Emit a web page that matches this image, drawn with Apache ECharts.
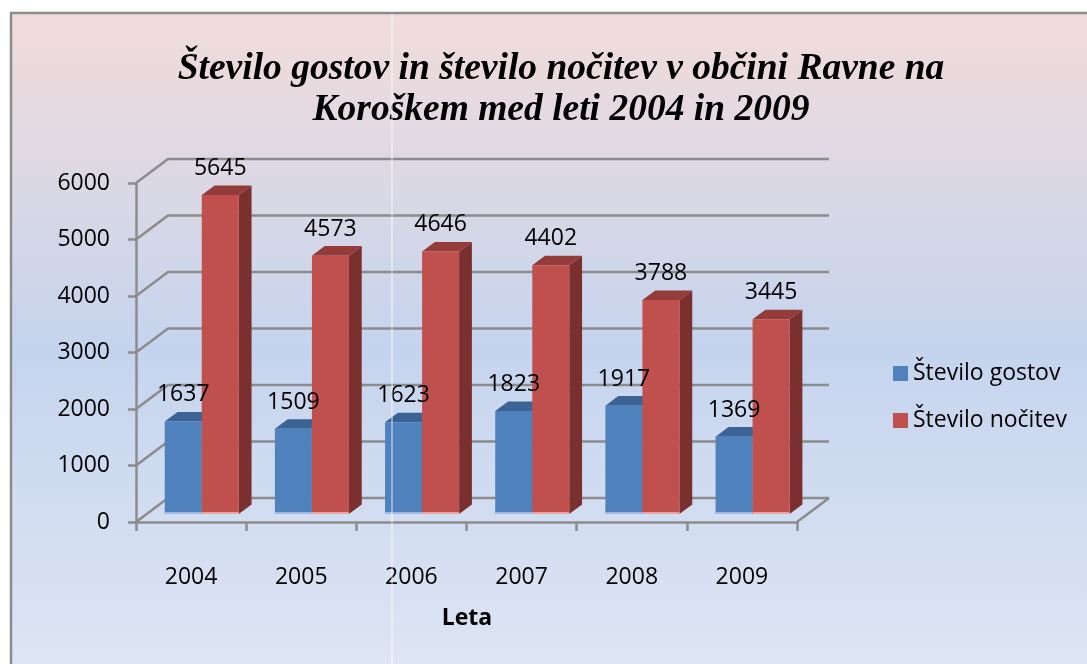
<!DOCTYPE html>
<html><head><meta charset="utf-8">
<script src="https://cdn.jsdelivr.net/npm/echarts@6/dist/echarts.min.js"></script>
<style>html,body{margin:0;padding:0;background:#fff;}#c{width:1087px;height:664px;}</style>
</head><body><div id="c"></div>
<script>
const categories = ['2004', '2005', '2006', '2007', '2008', '2009'];
const gostov = [1637, 1509, 1623, 1823, 1917, 1369];
const nocitev = [5645, 4573, 4646, 4402, 3788, 3445];
const yTicks = [0, 1000, 2000, 3000, 4000, 5000, 6000];
const seriesNames = ['Število gostov', 'Število nočitev'];
const titleLines = ['Število gostov in število nočitev v občini Ravne na', 'Koroškem med leti 2004 in 2009'];
const axisName = 'Leta';

const DX = 32, DY = -24;
const GRID = '#8c8c8c';
const FONT = '"Open Sans"';
const FS = 23;
const palettes = [
  { front: '#4f81bd', top: '#3b6393', side: '#2f4f78', light: '#9db8e2' },
  { front: '#c0504d', top: '#943c3a', side: '#7a302e', light: '#e6a3a1' }
];

const chart = echarts.init(document.getElementById('c'), null, { renderer: 'canvas' });

function barGeom(api, sIdx) {
  const cat = api.value(0), val = api.value(1);
  const base = api.coord([cat, 0]);
  const top = api.coord([cat, val]);
  const cw = api.size([1, 0])[0];
  const bw = cw * 0.336;
  const fx = DX / 3, fy = DY / 3;
  const xl = base[0] + (sIdx === 0 ? -bw : 0) + fx;
  return { xl: xl, xr: xl + bw, yb: base[1] + fy, yt: top[1] + fy, bw: bw, val: val };
}

function barRenderer(sIdx) {
  const c = palettes[sIdx];
  return function (params, api) {
    const g = barGeom(api, sIdx);
    const dx = DX * 0.4, dy = DY * 0.4;
    return { type: 'group', children: [
      { type: 'polygon', shape: { points: [[g.xr, g.yt], [g.xr + dx, g.yt + dy], [g.xr + dx, g.yb + dy], [g.xr, g.yb]] }, style: { fill: c.side } },
      { type: 'polygon', shape: { points: [[g.xl, g.yt], [g.xl + dx, g.yt + dy], [g.xr + dx, g.yt + dy], [g.xr, g.yt]] }, style: { fill: c.top } },
      { type: 'rect', shape: { x: g.xl, y: g.yt, width: g.bw, height: g.yb - g.yt }, style: { fill: c.front } },
      { type: 'rect', shape: { x: g.xl, y: g.yb - 2, width: g.bw, height: 2 }, style: { fill: c.light } }
    ] };
  };
}

function labelRenderer(params, api) {
  const sIdx = api.value(2);
  const g = barGeom(api, sIdx);
  const dy = DY * 0.4;
  return { type: 'text', style: { text: String(g.val), x: (g.xl + g.xr) / 2, y: g.yt + dy - 17, textAlign: 'center', textVerticalAlign: 'middle', font: FS + 'px ' + FONT, fill: '#000' } };
}

function gridRenderer(params, api) {
  const cs = params.coordSys;
  const v = api.value(1);
  const y = api.coord([0, v])[1];
  const x0 = cs.x, x1 = cs.x + cs.width;
  const children = [
    { type: 'polyline', shape: { points: [[x0, y], [x0 + DX, y + DY], [x1 + DX, y + DY]] }, style: { stroke: GRID, lineWidth: 2.5, fill: null } }
  ];
  if (v === 0) {
    children.push({ type: 'line', shape: { x1: x1, y1: y, x2: x1 + DX, y2: y + DY }, style: { stroke: GRID, lineWidth: 2.5 } });
  }
  return { type: 'group', children: children };
}

const labelData = [];
gostov.forEach((v, i) => labelData.push([i, v, 0]));
nocitev.forEach((v, i) => labelData.push([i, v, 1]));

chart.setOption({
  animation: false,
  color: [palettes[0].front, palettes[1].front],
  graphic: [
    { type: 'rect', z: -10, silent: true, shape: { x: 11, y: 13, width: 1090, height: 670 },
      style: { stroke: '#8c8c8c', lineWidth: 2.5,
        fill: { type: 'linear', x: 0, y: 0, x2: 0, y2: 1, colorStops: [
          { offset: 0, color: '#f2dcdb' }, { offset: 0.5, color: '#c5d4ee' }, { offset: 1, color: '#dfe6f4' } ] } } },
    { type: 'line', z: 100, silent: true, shape: { x1: 392, y1: 14, x2: 392, y2: 664 }, style: { stroke: 'rgba(255,255,255,0.7)', lineWidth: 1.2 } },
    { type: 'text', z: 10, x: 561, y: 50, style: { text: titleLines[0], textAlign: 'center', font: 'italic bold 37.5px "Liberation Serif"', fill: '#000' } },
    { type: 'text', z: 10, x: 561, y: 91, style: { text: titleLines[1], textAlign: 'center', font: 'italic bold 37.5px "Liberation Serif"', fill: '#000' } },
    { type: 'text', z: 10, x: 467, y: 618, style: { text: axisName, textAlign: 'center', textVerticalAlign: 'middle', font: 'bold ' + FS + 'px ' + FONT, fill: '#000' } }
  ],
  legend: {
    data: seriesNames, orient: 'vertical', left: 893, top: 362, padding: 0, itemWidth: 15, itemHeight: 15, itemGap: 24,
    icon: 'rect', textStyle: { fontSize: FS, fontFamily: 'Open Sans', color: '#000' }
  },
  grid: { left: 136, right: 290, top: 183, bottom: 142 },
  xAxis: {
    type: 'category', data: categories,
    axisLine: { lineStyle: { color: GRID, width: 2.5 } },
    axisTick: { show: true, length: 9, lineStyle: { color: GRID, width: 2.5 } },
    axisLabel: { fontSize: FS, fontFamily: 'Open Sans', color: '#000', margin: 44 },
    splitLine: { show: false }
  },
  yAxis: {
    type: 'value', min: 0, max: 6000, interval: 1000,
    axisLine: { show: true, lineStyle: { color: GRID, width: 2.5 } },
    axisTick: { show: true, length: 8, lineStyle: { color: GRID, width: 2.5 } },
    axisLabel: { fontSize: FS, fontFamily: 'Open Sans', color: '#000', margin: 26, formatter: v => String(v) },
    splitLine: { show: false }
  },
  series: [
    { type: 'custom', name: 'grid3d', silent: true, z: 1, renderItem: gridRenderer, data: yTicks.map(v => [0, v]), encode: { x: 0, y: 1 } },
    { type: 'custom', name: seriesNames[0], z: 2, itemStyle: { color: palettes[0].front }, renderItem: barRenderer(0), data: gostov.map((v, i) => [i, v]), encode: { x: 0, y: 1 } },
    { type: 'custom', name: seriesNames[1], z: 3, itemStyle: { color: palettes[1].front }, renderItem: barRenderer(1), data: nocitev.map((v, i) => [i, v]), encode: { x: 0, y: 1 } },
    { type: 'custom', name: 'labels', silent: true, z: 5, renderItem: labelRenderer, data: labelData, encode: { x: 0, y: 1 } }
  ]
});
</script>
</body></html>
